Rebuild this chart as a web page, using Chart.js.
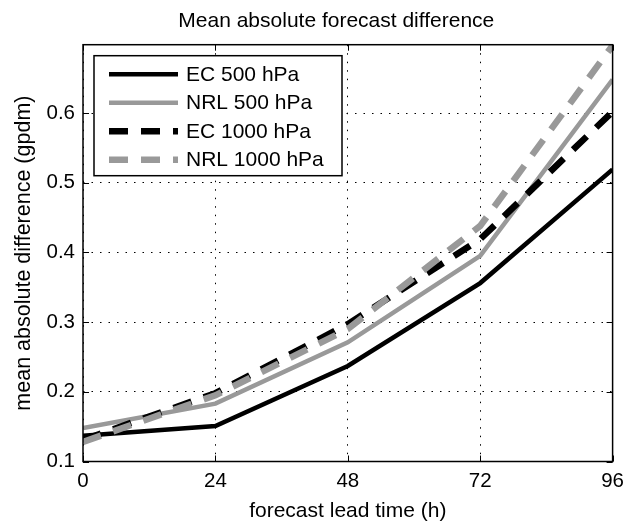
<!DOCTYPE html>
<html>
<head>
<meta charset="utf-8">
<script src="https://cdn.jsdelivr.net/npm/chart.js@4.4.1/dist/chart.umd.min.js"></script>
<style>
  html, body { margin: 0; padding: 0; background: #fff; }
</style>
</head>
<body>
<canvas id="chart1" width="632" height="524"></canvas>
<script>

// values
const leadTimes = [0, 24, 48, 72, 96];
const ec500 = [0.137, 0.151, 0.237, 0.356, 0.519];
const nrl500 = [0.148, 0.183, 0.271, 0.395, 0.648];
const ec1000 = [0.131, 0.198, 0.297, 0.419, 0.602];
const nrl1000 = [0.128, 0.195, 0.290, 0.438, 0.697];
const seriesNames = ['EC 500 hPa', 'NRL 500 hPa', 'EC 1000 hPa', 'NRL 1000 hPa'];
const xTicks = [0, 24, 48, 72, 96];
const yTicks = [0.1, 0.2, 0.3, 0.4, 0.5, 0.6];

const fontFamily = "'Liberation Sans', Arial, Helvetica, sans-serif";
const gray = '#999999';

function toPoints(values) {
    return leadTimes.map(function (x, i) {
        return { x: x, y: values[i] };
    });
}

// axes box, inward ticks and the boxed legend
const frameAndLegend = {
    id: 'frameAndLegend',
    afterLayout(chart) {
        // the title sits a little left of the axes centre in the original
        if (chart.titleBlock) {
            chart.titleBlock.left -= 23;
        }
    },
    afterDraw(chart) {
        const ctx = chart.ctx;
        const a = chart.chartArea;
        const sx = chart.scales.x;
        const sy = chart.scales.y;

        ctx.save();
        ctx.strokeStyle = '#000';
        ctx.lineWidth = 1;
        ctx.beginPath();
        sx.ticks.forEach(function (t) {
            const px = Math.round(sx.getPixelForValue(t.value)) + 0.5;
            ctx.moveTo(px, a.bottom); ctx.lineTo(px, a.bottom - 6);
            ctx.moveTo(px, a.top); ctx.lineTo(px, a.top + 6);
        });
        sy.ticks.forEach(function (t) {
            const py = Math.round(sy.getPixelForValue(t.value)) + 0.5;
            ctx.moveTo(a.left, py); ctx.lineTo(a.left + 6, py);
            ctx.moveTo(a.right, py); ctx.lineTo(a.right - 6, py);
        });
        ctx.stroke();

        ctx.lineWidth = 1.5;
        ctx.strokeRect(a.left, a.top, a.right - a.left, a.bottom - a.top);

        // legend
        const bx = a.left + 11, by = a.top + 11, bw = 248, bh = 120;
        ctx.fillStyle = '#fff';
        ctx.fillRect(bx, by, bw, bh);
        ctx.strokeRect(bx, by, bw, bh);

        ctx.font = '21px ' + fontFamily;
        ctx.textBaseline = 'middle';
        ctx.textAlign = 'left';
        chart.data.datasets.forEach(function (ds, i) {
            const y = by + 18.5 + i * 28.5;
            ctx.save();
            ctx.strokeStyle = ds.borderColor;
            ctx.lineWidth = ds.borderWidth;
            ctx.lineCap = 'butt';
            ctx.setLineDash(ds.borderDash || []);
            ctx.beginPath();
            ctx.moveTo(bx + 15, y);
            ctx.lineTo(bx + 84, y);
            ctx.stroke();
            ctx.restore();
            ctx.fillStyle = '#000';
            ctx.fillText(ds.label, bx + 92, y + 1);
        });
        ctx.restore();
    }
};

const chart1 = new Chart(document.getElementById('chart1'), {
    type: 'line',
    data: {
        datasets: [
            { label: seriesNames[0], data: toPoints(ec500), borderColor: '#000', borderWidth: 4.5, order: 4 },
            { label: seriesNames[1], data: toPoints(nrl500), borderColor: gray, borderWidth: 4.5, order: 3 },
            { label: seriesNames[2], data: toPoints(ec1000), borderColor: '#000', borderWidth: 6.5, borderDash: [19, 13], order: 2 },
            { label: seriesNames[3], data: toPoints(nrl1000), borderColor: gray, borderWidth: 6.5, borderDash: [19, 13], order: 1 }
        ]
    },
    options: {
        responsive: false,
        animation: false,
        devicePixelRatio: 1,
        datasets: {
            line: { pointRadius: 0, tension: 0, fill: false, clip: 0, borderCapStyle: 'butt', borderJoinStyle: 'miter' }
        },
        layout: { padding: { top: 0, left: 0, right: 15, bottom: 0 } },
        plugins: {
            legend: { display: false },
            tooltip: { enabled: false },
            title: {
                display: true,
                text: 'Mean absolute forecast difference',
                color: '#000',
                fullSize: false,
                font: { family: fontFamily, size: 21, weight: 'normal' },
                padding: { top: 8.5, bottom: 11 }
            }
        },
        scales: {
            x: {
                type: 'linear',
                min: 0,
                max: 96,
                afterBuildTicks: function (s) { s.ticks = xTicks.map(function (v) { return { value: v }; }); },
                afterFit: function (s) { s.height = 62.5; },
                ticks: { color: '#000', font: { family: fontFamily, size: 20.5 }, padding: 8, maxRotation: 0, autoSkip: false },
                grid: { color: '#000', lineWidth: 1, drawTicks: false },
                border: { display: false, dash: [1.5, 7] },
                title: {
                    display: true,
                    text: 'forecast lead time (h)',
                    color: '#000',
                    font: { family: fontFamily, size: 21 },
                    padding: { top: 0, bottom: 0.4 }
                }
            },
            y: {
                type: 'linear',
                min: 0.1,
                max: 0.698,
                afterBuildTicks: function (s) { s.ticks = yTicks.map(function (v) { return { value: v }; }); },
                afterFit: function (s) { s.width = 83; },
                ticks: {
                    color: '#000',
                    font: { family: fontFamily, size: 20.5 },
                    padding: 8,
                    callback: function (v) { return v.toFixed(1); }
                },
                grid: { color: '#000', lineWidth: 1, drawTicks: false },
                border: { display: false, dash: [1.5, 7] },
                title: {
                    display: true,
                    text: 'mean absolute difference (gpdm)',
                    color: '#000',
                    font: { family: fontFamily, size: 21.5 },
                    padding: { top: 11, bottom: 0 }
                }
            }
        }
    },
    plugins: [frameAndLegend]
});

</script>
</body>
</html>
